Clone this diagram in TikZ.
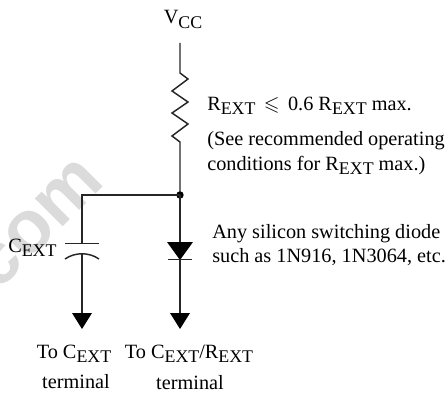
\documentclass[tikz,border=0pt]{standalone}
\usepackage{amssymb}
\usepackage{fontspec}
\setmainfont{Liberation Serif}
\setsansfont{Liberation Sans}
\usetikzlibrary{positioning}
\newcommand{\lowsub}[1]{\raisebox{-0.45ex}{\scalebox{0.88}{#1}}}
\tikzset{
  wire/.style={line width=1.1pt,black!85},
  label/.style={font=\fontsize{15.2pt}{17pt}\selectfont,inner sep=0pt},
  head/.style={fill=black,draw=none},
}

\begin{document}
\begin{tikzpicture}[x=0.75pt,y=-0.75pt]
\useasboundingbox (0,0) rectangle (448,392);

\node[rotate=45,text=black!14,font=\sffamily\bfseries\fontsize{56pt}{56pt}\selectfont,inner sep=0pt] (mark) at (38,224) {com};

\coordinate (vcc) at (180,43);
\coordinate (junction) at (180,195);
\coordinate (corner) at (82,195);

% resistor
\draw[wire,line join=miter] (vcc) -- (180,73) -- (188,79) -- (172,91) -- (188,102) -- (172,113) -- (188,124) -- (172,136) -- (180,142) -- (junction);
\fill (junction) circle (3.7);

% capacitor branch
\coordinate (capa) at (82,243);
\coordinate (capb) at (82,254);
\coordinate (arra) at (82,329);
\draw[wire] (junction) -- (corner) -- (capa);
\draw[wire] (65,243.5) -- (99,243.5);
\draw[wire] (65,259) .. controls (75,252) and (89,252) .. (99,259);
\draw[wire] (capb) -- (82,316);
\fill[head] (arra) -- (72,313) -- (92,313) -- cycle;

% diode branch
\coordinate (arrb) at (180,329);
\draw[wire] (junction) -- (180,316);
\fill[head] (180,260) -- (167,242) -- (193,242) -- cycle;
\draw[wire] (168,259.5) -- (192,259.5);
\fill[head] (arrb) -- (170,313) -- (190,313) -- cycle;

\node[label,anchor=base] (vlabel) at (183,24) {V\lowsub{CC}};
\node[label,anchor=base west] (rlabel) at (207,110) {R\lowsub{EXT} \,$\leqslant$\, 0.6 R\lowsub{EXT} max.};
\node[label,anchor=base west] (see) at (207,145) {(See recommended operating};
\node[label,anchor=base west] (cond) at (207,170) {conditions for R\lowsub{EXT} max.)};
\node[label,anchor=base west] (any) at (212,238) {Any silicon switching diode};
\node[label,anchor=base west] (such) at (212,262) {such as 1N916, 1N3064, etc.};
\node[label,anchor=base west] (clabel) at (8,252) {C\lowsub{EXT}};
\node[label,anchor=base] (toc) at (74,358) {To C\lowsub{EXT}};
\node[label,anchor=base] (tocterm) at (76,388) {terminal};
\node[label,anchor=base] (tor) at (189,358) {To C\lowsub{EXT}/R\lowsub{EXT}};
\node[label,anchor=base] (torterm) at (190,389) {terminal};

\end{tikzpicture}
\end{document}
